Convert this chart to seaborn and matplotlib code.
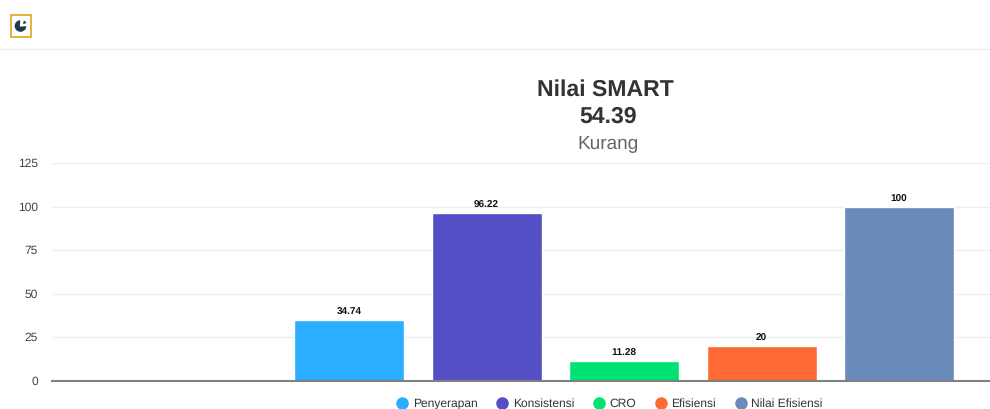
import matplotlib
matplotlib.use("Agg")
import matplotlib.pyplot as plt
import matplotlib.patches as mpatches
from matplotlib.transforms import IdentityTransform
import pandas as pd
import seaborn as sns

categories = ["Penyerapan", "Konsistensi", "CRO", "Efisiensi", "Nilai Efisiensi"]
values = [34.74, 96.22, 11.28, 20, 100]
value_labels = ["34.74", "96.22", "11.28", "20", "100"]
colors = ["#2BAEFF", "#544FC5", "#00E272", "#FE6A35", "#6B8ABC"]
yticks = [0, 25, 50, 75, 100, 125]

W, H = 990, 409

sns.set_theme(style="white")
plt.rcParams["font.family"] = ["Liberation Sans", "DejaVu Sans"]
plt.rcParams["text.hinting"] = "no_hinting"
plt.rcParams["text.hinting_factor"] = 1

fig = plt.figure(figsize=(W / 100, H / 100), dpi=100)
ax = fig.add_axes([52 / W, 1 - 380.5 / H, (W - 52) / W, (380.5 - 163) / H])

df = pd.DataFrame({"Kategori": categories, "Nilai": values})
sns.barplot(data=df, x="Kategori", y="Nilai", hue="Kategori", palette=colors,
            width=0.8, legend=False, saturation=1, ax=ax)

ax.set_xlim(-2.161, 4.661)
ax.set_ylim(0, 125)
ax.set_yticks(yticks)
ax.set_xticks([])
ax.set_xlabel("")
ax.set_ylabel("")
ax.tick_params(axis="y", length=0, pad=10, labelsize=8.5, labelcolor="#444444")
ax.grid(axis="y", color="#EEEEEE", lw=1)
ax.set_axisbelow(True)
for s in ["top", "right", "left"]:
    ax.spines[s].set_visible(False)
ax.spines["bottom"].set_color("#808080")
ax.spines["bottom"].set_linewidth(1.5)

for i, lab in enumerate(value_labels):
    ax.annotate(lab, (i, values[i]), xytext=(0, 2), textcoords="offset points",
                ha="center", va="bottom", fontsize=7.5, fontweight="bold", color="#111111")

# titel
fig.text(605.5 / W, 1 - 90 / H, "Nilai SMART", ha="center", va="center",
         fontsize=16.4, fontweight="bold", color="#333333")
fig.text(608.5 / W, 1 - 117 / H, "54.39", ha="center", va="center",
         fontsize=16.5, fontweight="bold", color="#333333")
fig.text(608 / W, 1 - 144 / H, "Kurang", ha="center", va="center",
         fontsize=13.4, color="#666666")

# legend
handles = [plt.Line2D([], [], ls="", marker="o", ms=8, color=c, label=n)
           for c, n in zip(colors, categories)]
fig.legend(handles=handles, loc="center", bbox_to_anchor=(609.5 / W, 1 - 403.5 / H), ncol=5,
           frameon=False, fontsize=8.3, labelcolor="#333333", handlelength=1,
           handletextpad=0.4, columnspacing=1.65, borderpad=0, borderaxespad=0)

# header: garis dan ikon
fig.add_artist(plt.Line2D([0, 1], [1 - 48.5 / H] * 2, color="#EEEEEE", lw=1))
fig.add_artist(mpatches.Rectangle((11 / W, 1 - 37 / H), 20 / W, 22 / H, fill=False,
                                  ec="#E0AE2C", lw=1.3, transform=fig.transFigure))
px = IdentityTransform()
fig.add_artist(mpatches.Wedge((20.5, H - 26), 6.5, 85, 5, fc="#1F3550", transform=px))
fig.add_artist(mpatches.Wedge((22, H - 25), 5.5, 15, 75, fc="#1F3550", transform=px))

fig.savefig("out.png", dpi=100)
